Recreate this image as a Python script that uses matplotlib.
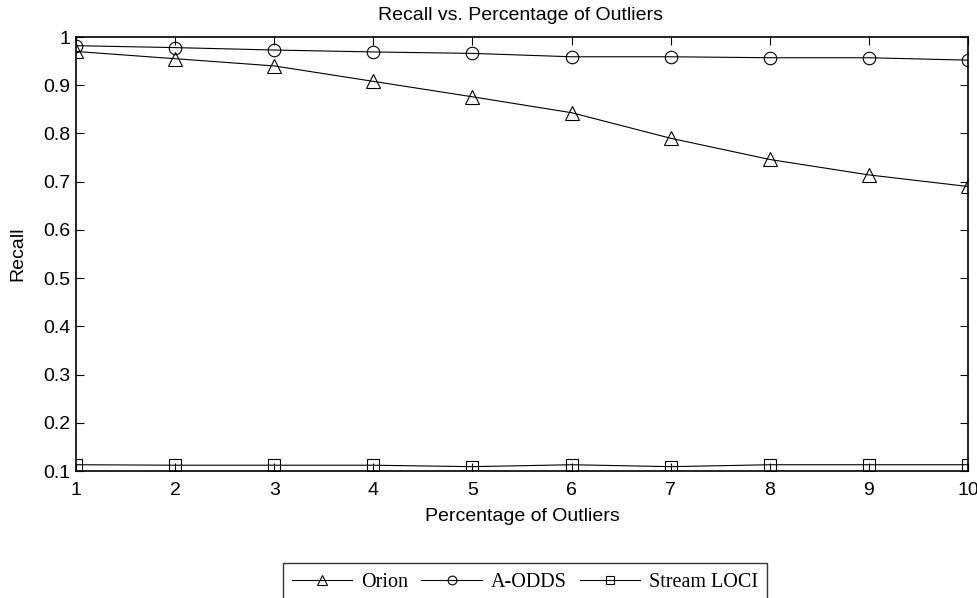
import numpy as np
import matplotlib.pyplot as plt

# data
pct = [1, 2, 3, 4, 5, 6, 7, 8, 9, 10]
orion = [0.970, 0.955, 0.940, 0.908, 0.876, 0.843, 0.790, 0.746, 0.714, 0.690]
aodds = [0.982, 0.978, 0.973, 0.969, 0.966, 0.959, 0.959, 0.957, 0.957, 0.952]
stream_loci = [0.113, 0.112, 0.112, 0.112, 0.109, 0.113, 0.109, 0.113, 0.113, 0.113]
y_ticks = [0.1, 0.2, 0.3, 0.4, 0.5, 0.6, 0.7, 0.8, 0.9, 1.0]
y_ticklabels = ['0.1', '0.2', '0.3', '0.4', '0.5', '0.6', '0.7', '0.8', '0.9', '1']

plt.rcParams['font.family'] = ['Liberation Sans', 'DejaVu Sans']

fig = plt.figure(figsize=(9.78, 5.98), dpi=100)
ax = fig.add_axes([76 / 978, 1 - 471 / 598, 892 / 978, 434 / 598])

style = dict(color='black', linewidth=0.8, markerfacecolor='none',
             markeredgecolor='black', markeredgewidth=0.8)
ax.plot(pct, orion, marker='^', markersize=10, label='Orion', **style)
ax.plot(pct, aodds, marker='o', markersize=9, label='A-ODDS', **style)
ax.plot(pct, stream_loci, marker='s', markersize=9, label='Stream LOCI', **style)

ax.set_xlim(1, 10)
ax.set_ylim(0.1, 1.0)
ax.set_xticks(pct)
ax.set_yticks(y_ticks)
ax.set_yticklabels(y_ticklabels)
ax.tick_params(direction='in', length=6, width=0.8, top=True, right=True,
               labelsize=14)
ax.tick_params(axis='x', pad=8)
ax.tick_params(axis='y', pad=4)
for sp in ax.spines.values():
    sp.set_linewidth(1.2)

# title placed in figure coords (axes title gets pushed around by top ticks)
fig.text(521 / 978, 1 - 16 / 598, 'Recall vs. Percentage of Outliers',
         fontsize=14, ha='center', va='center')
ax.set_xlabel('Percentage of Outliers', fontsize=14, labelpad=6.5)
ax.set_ylabel('Recall', fontsize=14, labelpad=12)

leg = fig.legend(loc='center', bbox_to_anchor=(525 / 978, 1 - 582 / 598), ncol=3,
                 prop={'family': 'Liberation Serif', 'size': 14.5},
                 handlelength=3.0, handletextpad=0.45, columnspacing=0.65,
                 markerscale=0.7, fancybox=False, frameon=True,
                 borderpad=0.45)
leg.get_frame().set_edgecolor('black')
leg.get_frame().set_linewidth(1.0)

fig.savefig('out.png', dpi=100)
